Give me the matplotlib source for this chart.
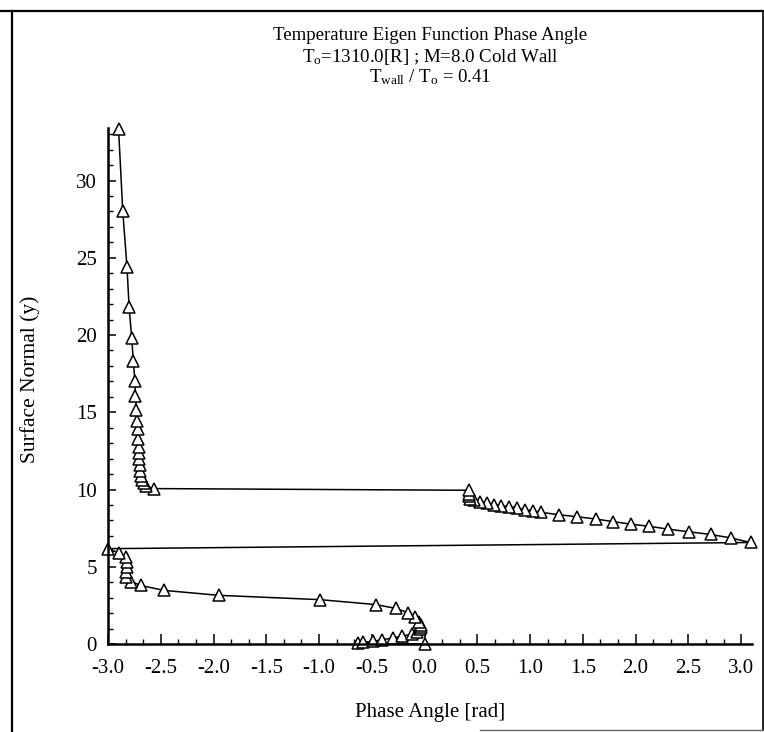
import matplotlib
matplotlib.use('Agg')
import matplotlib.pyplot as plt
from matplotlib.ticker import MultipleLocator, FormatStrFormatter
from matplotlib.lines import Line2D

plt.rcParams.update({
    'font.family': ['Liberation Serif', 'DejaVu Serif'],
    'mathtext.fontset': 'custom',
    'mathtext.rm': 'Liberation Serif',
    'mathtext.it': 'Liberation Serif:italic',
    'axes.unicode_minus': False,
})

# surface normal y, from the wall upward
y_lower = [0.00, 0.06, 0.10, 0.17, 0.28, 0.39, 0.52, 0.63, 0.78, 0.94, 1.10, 1.25,
           1.45, 1.76, 2.03, 2.30, 2.55, 2.87, 3.15, 3.47, 3.79, 4.04, 4.36, 4.68,
           5.00, 5.32, 5.64, 5.90, 6.17]
ph_lower = [0.00, -0.63, -0.58, -0.49, -0.40, -0.30, -0.21, -0.12, -0.07, -0.04, -0.03, -0.035,
            -0.05, -0.09, -0.16, -0.27, -0.46, -0.99, -1.95, -2.47, -2.69, -2.78, -2.83, -2.83,
            -2.82, -2.82, -2.83, -2.90, -3.00]

y_mid = [6.57, 6.87, 7.09, 7.26, 7.43, 7.62, 7.75, 7.92, 8.09, 8.24, 8.37, 8.52, 8.63,
         8.69, 8.82, 8.89, 8.95, 9.01, 9.12, 9.21, 9.29, 9.40, 9.55, 9.72, 9.95]
ph_mid = [3.09, 2.90, 2.71, 2.51, 2.31, 2.13, 1.96, 1.79, 1.62, 1.44, 1.27, 1.105, 1.025,
          0.95, 0.876, 0.80, 0.726, 0.66, 0.59, 0.525, 0.47, 0.43, 0.42, 0.42, 0.424]

y_upper = [10.06, 10.20, 10.40, 10.60, 10.90, 11.20, 11.60, 11.95, 12.35, 12.75, 13.30,
           13.90, 14.45, 15.15, 16.05, 17.00, 18.30, 19.80, 21.80, 24.40, 28.00, 33.35]
ph_upper = [-2.565, -2.64, -2.66, -2.68, -2.69, -2.70, -2.70, -2.71, -2.71, -2.71, -2.715,
            -2.72, -2.725, -2.73, -2.74, -2.745, -2.76, -2.775, -2.80, -2.82, -2.86, -2.90]

y_all = y_lower + y_mid + y_upper
ph_all = ph_lower + ph_mid + ph_upper

W, H = 764, 732
fig = plt.figure(figsize=(W / 100, H / 100), dpi=100)
ax = fig.add_axes([108 / W, 1 - 644 / H, 643.7 / W, 516 / H])

ax.plot(ph_all, y_all, color='black', lw=1.1, marker='^', ms=8.5,
        mfc='white', mec='black', mew=1.1, clip_on=False)

ax.set_xlim(-3.0, 3.1)
ax.set_ylim(0, 33.4)
for s in ['top', 'right']:
    ax.spines[s].set_visible(False)
for s in ['left', 'bottom']:
    ax.spines[s].set_linewidth(1.8)

ax.xaxis.set_major_locator(MultipleLocator(0.5))
ax.xaxis.set_minor_locator(MultipleLocator(0.5 / 3))
ax.xaxis.set_major_formatter(FormatStrFormatter('%.1f'))
ax.yaxis.set_major_locator(MultipleLocator(5))
ax.yaxis.set_minor_locator(MultipleLocator(1))
ax.tick_params(axis='x', which='major', direction='in', length=7, width=1.1, pad=11, labelsize=15)
ax.tick_params(axis='x', which='minor', direction='in', length=3.5, width=1)
ax.tick_params(axis='y', which='major', direction='in', length=6, width=1.1, pad=8, labelsize=15)
ax.tick_params(axis='y', which='minor', direction='in', length=3.5, width=1)

ax.set_xlabel('Phase Angle [rad]', fontsize=15)
ax.xaxis.set_label_coords(0.5, -0.115)
ax.set_ylabel('Surface Normal (y)', fontsize=15.5)
ax.yaxis.set_label_coords(-0.105, 0.512)

cx = 430 / W
fig.text(cx, 1 - 40 / H, 'Temperature Eigen Function Phase Angle', ha='center', va='baseline', fontsize=13.6)
fig.text(cx, 1 - 62 / H, r'T$_\mathrm{o}$=1310.0[R] ; M=8.0 Cold Wall', ha='center', va='baseline', fontsize=13.6)
fig.text(cx, 1 - 82 / H, r'T$_\mathrm{wall}$ / T$_\mathrm{o}$ = 0.41', ha='center', va='baseline', fontsize=13.6)

# page frame around the plot
fig.add_artist(Line2D([12 / W, 12 / W], [0, 1 - 11 / H], transform=fig.transFigure, color='black', lw=1.6))
fig.add_artist(Line2D([0, 1], [1 - 11 / H, 1 - 11 / H], transform=fig.transFigure, color='black', lw=1.6))
fig.add_artist(Line2D([763 / W, 763 / W], [1 - 730 / H, 1 - 11 / H], transform=fig.transFigure, color='black', lw=1.2))
fig.add_artist(Line2D([480 / W, 1], [1 - 730 / H, 1 - 730 / H], transform=fig.transFigure, color='0.4', lw=1.0))

fig.savefig('out.png', dpi=100)
